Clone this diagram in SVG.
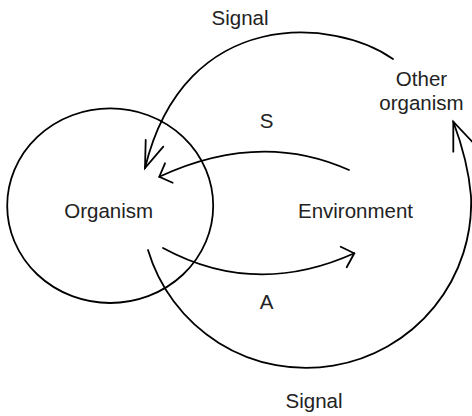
<svg xmlns="http://www.w3.org/2000/svg" width="472" height="416" viewBox="0 0 472 416">
<style>
.ln{fill:none;stroke:#000;stroke-width:1.8;stroke-linecap:round;stroke-linejoin:miter}
.tx{font-family:"Liberation Sans",Arial,sans-serif;font-size:20.5px;fill:#222;text-anchor:middle}
</style>
<rect width="472" height="416" fill="#fff"/>
<g id="connectors">
<g id="signal-top">
<path class="ln" d="M393,59 C335,18 185,5 145,168"/>
<path class="ln" d="M145.7,140 L145,168 L163.3,146.7"/>
</g>
<g id="s-arrow">
<path class="ln" d="M349,170 Q260,130 159.3,176.7"/>
<path class="ln" d="M172.7,182.7 L159.3,176.7 L165,163.3"/>
</g>
<g id="a-arrow">
<path class="ln" d="M163,248 Q255,298 354.3,253.3"/>
<path class="ln" d="M340.7,246.7 L354.3,253.3 L346.7,267.3"/>
</g>
<g id="signal-bottom">
<path class="ln" d="M148,250 A165 165 0 0 0 471,196 C469,172 462,145 453.3,121.7"/>
<path class="ln" d="M453.3,151.7 L453.3,121.7 L474,143.6"/>
</g>
</g>
<g id="organism">
<ellipse class="ln" cx="110.2" cy="205.7" rx="103" ry="97.3"/>
<text class="tx" x="108.7" y="217.7">Organism</text>
</g>
<g id="environment">
<text class="tx" x="355.5" y="217.7">Environment</text>
</g>
<g id="other-organism">
<text class="tx" x="421.5" y="86">Other</text>
<text class="tx" x="421.5" y="110">organism</text>
</g>
<g id="labels">
<text class="tx" x="240" y="25">Signal</text>
<text class="tx" x="266.7" y="128">S</text>
<text class="tx" x="266.5" y="308.5">A</text>
<text class="tx" x="314" y="408">Signal</text>
</g>
</svg>
